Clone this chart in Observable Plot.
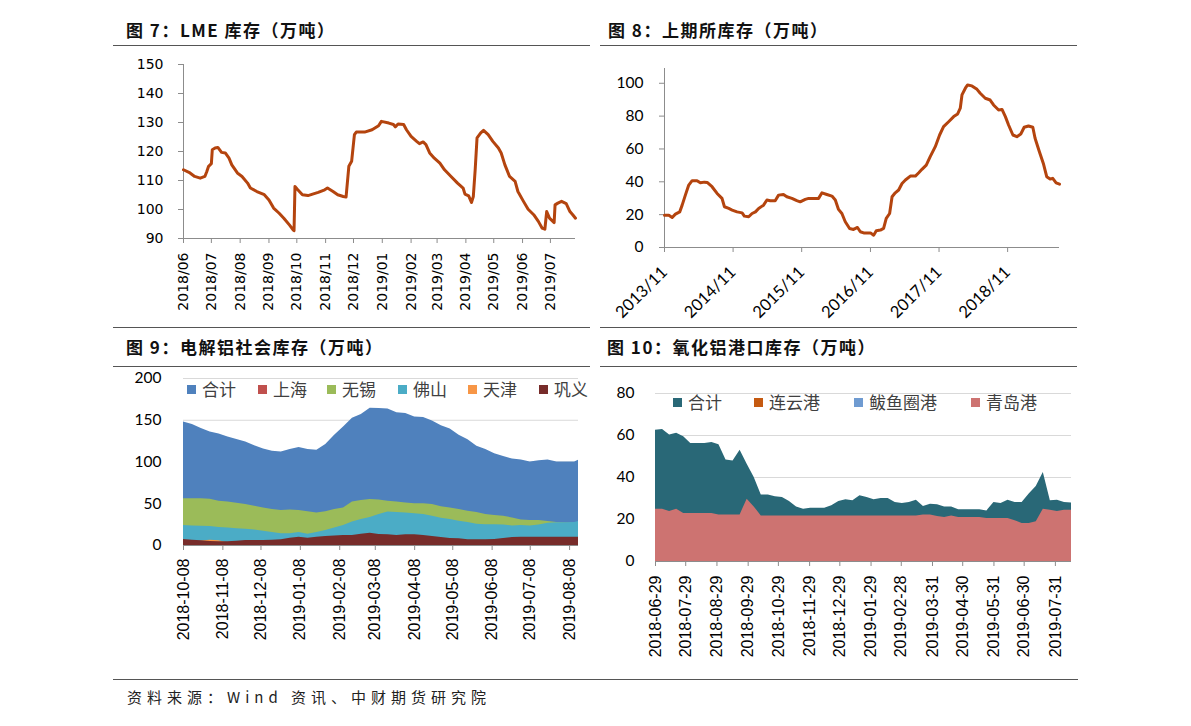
<!DOCTYPE html>
<html><head><meta charset="utf-8">
<script src="https://cdn.jsdelivr.net/npm/d3@7"></script>
<script src="https://cdn.jsdelivr.net/npm/@observablehq/plot@0.6"></script>
<style>
body{margin:0;background:#fff;}
#page{position:relative;width:1191px;height:726px;overflow:hidden;font-family:"Noto Sans CJK SC",sans-serif;background:#fff;}
.title{position:absolute;font-size:17px;font-weight:bold;letter-spacing:1.5px;line-height:20px;color:#111;white-space:nowrap}
.rule{position:absolute;height:0;border-top:1.5px solid #555}
.chart{position:absolute}
.chart svg{overflow:visible}
.lg{position:absolute;display:flex;align-items:center;font-size:17px;line-height:20px;color:#404040;white-space:nowrap;font-family:"Noto Sans CJK SC",sans-serif}
.lg .sw{display:inline-block;width:9px;height:9px;margin-right:6px}
.foot{position:absolute;font-size:15px;letter-spacing:5px;line-height:20px;color:#222;white-space:nowrap}
</style></head>
<body><div id="page"></div>
<script>
// ---------- Data: 图7 LME 库存 ----------
const lmeDates = ["2018-06-01","2018-06-08","2018-06-13","2018-06-19","2018-06-24","2018-06-26","2018-06-28","2018-07-01","2018-07-02","2018-07-05","2018-07-08","2018-07-12","2018-07-16","2018-07-20","2018-07-23","2018-07-29","2018-08-03","2018-08-09","2018-08-12","2018-08-19","2018-08-27","2018-09-01","2018-09-06","2018-09-12","2018-09-17","2018-09-23","2018-09-27","2018-09-28","2018-09-29","2018-10-02","2018-10-07","2018-10-13","2018-10-18","2018-10-24","2018-10-31","2018-11-03","2018-11-09","2018-11-14","2018-11-20","2018-11-23","2018-11-26","2018-11-29","2018-12-02","2018-12-04","2018-12-13","2018-12-21","2018-12-28","2018-12-31","2019-01-08","2019-01-13","2019-01-15","2019-01-18","2019-01-24","2019-01-27","2019-02-01","2019-02-07","2019-02-10","2019-02-14","2019-02-17","2019-02-21","2019-02-26","2019-03-04","2019-03-09","2019-03-16","2019-03-23","2019-03-29","2019-03-31","2019-04-04","2019-04-07","2019-04-09","2019-04-11","2019-04-13","2019-04-17","2019-04-20","2019-04-25","2019-04-30","2019-05-06","2019-05-09","2019-05-13","2019-05-18","2019-05-24","2019-05-27","2019-06-02","2019-06-07","2019-06-13","2019-06-18","2019-06-22","2019-06-25","2019-06-27","2019-06-30","2019-07-05","2019-07-06","2019-07-09","2019-07-13","2019-07-18","2019-07-22","2019-07-25","2019-07-28"];
const lmeValues = [113.7,112.6,111.4,110.8,111.4,113,114.9,115.8,120.6,121.2,121.4,119.7,119.5,117.7,115.4,112.6,111.4,109.1,107.4,106.2,105.1,103.3,100.5,98.7,97,94.7,93,92.7,107.9,106.8,105.1,104.8,105.3,105.9,106.8,107.4,106.2,105.1,104.5,104.3,114.9,116.6,125.8,126.7,126.7,127.5,128.9,130.4,129.8,129.3,128.5,129.5,129.3,127.5,125.2,123.5,122.7,123.3,122.4,119.5,117.7,116,113.7,111.4,109.1,107.4,105.3,104.7,102.4,104.5,113.7,124.7,126.4,127.3,125.8,123.5,121.2,119.5,115.4,111.4,109.7,106.2,102.8,100.1,98.2,95.9,93.6,93.2,99.3,97,95.5,101.6,102.2,102.8,102,99.3,98.2,97];
const lmeXTicks = ["2018-06-01","2018-07-01","2018-08-01","2018-09-01","2018-10-01","2018-11-01","2018-12-01","2019-01-01","2019-02-01","2019-03-01","2019-04-01","2019-05-01","2019-06-01","2019-07-01"];
const lmeYTicks = [90,100,110,120,130,140,150];

// ---------- Data: 图8 上期所库存 ----------
const shfeDates = ["2013-11-01","2013-11-24","2013-12-12","2013-12-29","2014-01-21","2014-02-03","2014-02-20","2014-03-10","2014-03-28","2014-04-23","2014-05-11","2014-06-01","2014-06-16","2014-07-12","2014-08-08","2014-09-03","2014-09-16","2014-10-09","2014-10-27","2014-11-22","2014-12-19","2014-12-31","2015-01-23","2015-02-10","2015-02-28","2015-03-17","2015-04-12","2015-04-30","2015-05-18","2015-06-13","2015-07-01","2015-07-27","2015-08-14","2015-09-10","2015-10-06","2015-10-24","2015-11-20","2015-12-08","2016-01-03","2016-01-30","2016-02-17","2016-03-14","2016-04-10","2016-04-28","2016-05-15","2016-06-02","2016-06-20","2016-07-13","2016-08-03","2016-08-24","2016-09-08","2016-09-26","2016-10-14","2016-11-01","2016-11-18","2016-12-02","2016-12-24","2017-01-10","2017-01-24","2017-02-11","2017-02-24","2017-03-13","2017-03-31","2017-04-18","2017-05-06","2017-06-01","2017-06-28","2017-07-16","2017-08-02","2017-08-25","2017-09-15","2017-10-12","2017-11-04","2017-11-25","2017-12-22","2018-01-18","2018-02-08","2018-02-22","2018-03-03","2018-03-21","2018-04-02","2018-04-25","2018-05-22","2018-06-08","2018-07-05","2018-07-31","2018-08-18","2018-09-14","2018-10-02","2018-10-20","2018-11-06","2018-11-29","2018-12-20","2019-01-10","2019-01-28","2019-02-20","2019-03-15","2019-03-27","2019-04-19","2019-05-10","2019-05-28","2019-06-15","2019-06-29","2019-07-17","2019-08-04"];
const shfeValues = [19.7,19.7,18.3,20.3,21.7,25.8,31.9,38,40.7,40.7,39.4,39.8,39.6,37,32.9,29.9,24.8,23.8,22.8,21.7,21.1,19.1,18.7,20.7,21.7,23.8,25.8,28.9,28.5,28.5,31.9,32.3,30.9,29.9,28.5,27.8,29.3,29.9,29.9,29.9,33.3,32.3,31.3,28.9,23.2,20.7,15.7,11.6,11,12.2,9.6,8.9,8.9,8.9,7.5,10.2,10.6,11.6,17.7,20.7,30.9,33.3,35,39,41.1,43.5,43.5,45.5,47.6,50.2,55.3,61.4,68.5,73.6,76.6,79.7,81.3,84.8,92.9,97,99,98.4,96.3,93.9,90.9,89.8,86.8,83.7,84.1,79.7,74.6,68.5,67.5,69.1,73.2,74,73.2,66.5,58.3,51.2,43.1,41.7,42.1,39.4,38.6];
const shfeXTicks = ["2013-11-01","2014-11-01","2015-11-01","2016-11-01","2017-11-01","2018-11-01"];
const shfeYTicks = [0,20,40,60,80,100];

// ---------- Data: 图9 电解铝社会库存 ----------
const socDates = ["2018-10-08","2018-10-15","2018-10-22","2018-10-29","2018-11-05","2018-11-12","2018-11-19","2018-11-26","2018-12-03","2018-12-10","2018-12-17","2018-12-24","2018-12-31","2019-01-07","2019-01-14","2019-01-21","2019-01-28","2019-02-04","2019-02-11","2019-02-18","2019-02-25","2019-03-04","2019-03-11","2019-03-18","2019-03-25","2019-04-01","2019-04-08","2019-04-15","2019-04-22","2019-04-29","2019-05-06","2019-05-13","2019-05-20","2019-05-27","2019-06-03","2019-06-10","2019-06-17","2019-06-24","2019-07-01","2019-07-08","2019-07-15","2019-07-22","2019-07-29","2019-08-05","2019-08-12","2019-08-15"];
const socTotal    = [148,145,140,136,133.5,130,127,124,119.5,115.5,113,112,115,117.5,115,114,121,132,142,152.5,157,164.5,164,163.5,159,158,154,153.2,149,143.5,139.5,132,126.5,119,115,110,106.5,103.5,102.5,100,101.5,102.5,100,100,100,102];
const socShanghai = [30,30,29,28,27,26,25,24,23,22,21,20,20,19,18,18,19,20,21,22,22,22,21,21,20,20,19,19,18,17,16,15,14,13,12,12,11,11,11,10,10,10,10,10,10,10];
const socWuxi     = [56,56,56,55.5,53,52,50.5,49,47,45,43,42,42.5,42,40.5,39,40.5,43,45,52,54,55,54.5,53,52,51,50,50,49,46.5,45,43,41,39.5,37,36,35,33,30.5,30,30,28.8,27.5,27,27,26.5];
const socFoshan   = [24,23.5,23,22.8,21.5,21,20,19.5,18.5,17,15.5,14,14,15.5,13.5,15.5,18,21,24,28,31,33.5,37,40,39.6,39,38,37.2,35,32.5,31,29,27.5,25.5,24.8,24.8,24.5,23.5,24,23.5,24.5,26.5,27.2,27.2,27.5,28.8];
const socTianjin  = [2,3,5.5,6.2,5.8,3,1.5,1.5,1.5,1.2,1.2,1,1,1,1,1,1,1,1,1,1,1,1,1,1,1,1,1,1,1,1,1,0.8,0.8,0.8,0.8,0.8,0.5,0.5,0.5,0.5,0.5,0.5,0.5,0.5,0.5];
const socGongyi   = [7.2,6.2,5.6,4.8,4.4,4.6,5,6,6,6,6.4,6.8,8.8,10,8.8,10,10.8,11.5,12,12,13.5,14.8,13.2,12.8,12,12.8,12.8,12,10.8,9.5,8.5,8,6.8,6.8,6.8,7.2,8.5,9.5,10,10,10,10,10,10,10,10];
const socNames  = ["合计","上海","无锡","佛山","天津","巩义"];
const socColors = ["#4f81bd","#c0504d","#9bbb59","#4bacc6","#f79646","#772c2a"];
const socXTicks = ["2018-10-08","2018-11-08","2018-12-08","2019-01-08","2019-02-08","2019-03-08","2019-04-08","2019-05-08","2019-06-08","2019-07-08","2019-08-08"];
const socYTicks = [0,50,100,150,200];

// ---------- Data: 图10 氧化铝港口库存 ----------
const portDates = ["2018-06-29","2018-07-06","2018-07-13","2018-07-20","2018-07-27","2018-08-03","2018-08-10","2018-08-17","2018-08-24","2018-08-31","2018-09-07","2018-09-14","2018-09-21","2018-09-28","2018-10-05","2018-10-12","2018-10-19","2018-10-26","2018-11-02","2018-11-09","2018-11-16","2018-11-23","2018-11-30","2018-12-07","2018-12-14","2018-12-21","2018-12-28","2019-01-04","2019-01-11","2019-01-18","2019-01-25","2019-02-01","2019-02-08","2019-02-15","2019-02-22","2019-03-01","2019-03-08","2019-03-15","2019-03-22","2019-03-29","2019-04-05","2019-04-12","2019-04-19","2019-04-26","2019-05-03","2019-05-10","2019-05-17","2019-05-24","2019-05-31","2019-06-07","2019-06-14","2019-06-21","2019-06-28","2019-07-05","2019-07-12","2019-07-19","2019-07-26","2019-08-02","2019-08-09","2019-08-16"];
const portTotal   = [62.5,62.9,60.2,61.1,59.4,56.2,56.2,56.2,56.7,55.6,48.3,47.8,53,46.3,40,31.7,31.7,30.8,30.5,28.6,26,24.9,25.4,25.4,25.4,26.5,28.6,29.4,28.9,31.3,30.5,29.4,30,30,28.1,27.6,28.1,29.2,26.2,27.3,27,26,26,24.6,24.6,24.6,24.6,24.1,28.1,27.6,29.2,28.1,28.1,32.1,35.7,42.4,28.9,29.2,28.1,27.8];
const portLYG     = [15,15,14,14,13,12,12,12,12,11,10,10,10,9,8,6,6,5,5,4,3,3,3,3,3,3,4,4,4,5,5,5,5,5,4,4,4,4,3,3,3,3,3,2,2,2,2,2,3,3,4,4,4,6,8,10,3,3,3,3];
const portBYQ     = [22,22,22,22,20,20,20,20,20,20,16,15,20,10,6,5,5,4,4,3,2,1,1,1,1,2,3,3,3,4,3,3,3,3,3,2,2,3,2,2,2,2,2,2,2,2,2,2,4,4,4,4,4,8,10,12,2,2,1,1];
const portQD      = [24.9,24.9,23.8,24.9,22.9,22.9,22.9,22.9,22.9,22.2,22.2,22.2,22.2,29.7,26,21.7,21.7,21.7,21.7,21.7,21.7,21.7,21.7,21.7,21.7,21.7,21.7,21.7,21.7,21.7,21.7,21.7,21.7,21.7,21.7,21.7,21.7,21.7,22.2,22.2,21.4,21,21.7,21,21,21,21,20.5,20.5,20.5,20.5,19.4,18.1,18.1,18.9,24.9,24.4,23.8,24.4,24.4];
const portNames  = ["合计","连云港","鲅鱼圈港","青岛港"];
const portColors = ["#296877","#c55a11","#6f9bd1","#cd7371"];
const portXTicks = ["2018-06-29","2018-07-29","2018-08-29","2018-09-29","2018-10-29","2018-11-29","2018-12-29","2019-01-29","2019-02-28","2019-03-31","2019-04-30","2019-05-31","2019-06-30","2019-07-31"];
const portYTicks = [0,20,40,60,80];

// ---------- Texts ----------
const titles = ["图 7：LME 库存（万吨）","图 8：上期所库存（万吨）","图 9：电解铝社会库存（万吨）","图 10：氧化铝港口库存（万吨）"];
const footText = "资料来源：Wind 资讯、中财期货研究院";

// ---------- Layout ----------
const page = document.getElementById("page");
const D = s => new Date(s + "T00:00:00Z");
const AX = "#8c8c8c", GRID = "#d9d9d9", LINE = "#b4440e";

function addDiv(cls, css, html) {
  const el = document.createElement("div");
  el.className = cls;
  Object.assign(el.style, css);
  if (html != null) el.textContent = html;
  page.appendChild(el);
  return el;
}
[[126,20],[608,20],[126,337],[607,337]].forEach((p,i)=>addDiv("title",{left:p[0]+"px",top:p[1]+"px"},titles[i]));
[[113,45,477],[600,45,477],[113,327,477],[600,327,477],[113,366,477],[600,366,477],[113,679,965]].forEach(r=>addDiv("rule",{left:r[0]+"px",top:r[1]+"px",width:r[2]+"px"}));
addDiv("foot",{left:"127px",top:"687px"},footText);

function place(svg, left, top) {
  const c = addDiv("chart",{left:left+"px",top:top+"px"});
  c.appendChild(svg);
}

// ---------- 图7 ----------
const lme = lmeDates.map((d,i)=>({date:D(d), value:lmeValues[i]}));
place(Plot.plot({
  width:477, height:275, marginLeft:70, marginRight:15, marginTop:14, marginBottom:87,
  style:{fontFamily:"DejaVu Sans", fontSize:"14px", color:"#000", background:"transparent", overflow:"visible"},
  x:{type:"utc", domain:[D(lmeDates[0]), D(lmeDates[lmeDates.length-1])]},
  y:{domain:[90,150]},
  marks:[
    Plot.ruleX([D(lmeDates[0])],{stroke:AX, strokeWidth:1}),
    Plot.ruleY([90],{stroke:AX, strokeWidth:1}),
    Plot.axisY({ticks:lmeYTicks, tickSize:5, tickPadding:15, stroke:AX, fill:"#000", label:null, fontSize:14}),
    Plot.axisX({ticks:lmeXTicks.map(D), tickFormat:d3.utcFormat("%Y/%m"), tickRotate:-90, tickSize:5, tickPadding:9, stroke:AX, fill:"#000", label:null, fontSize:14}),
    Plot.lineY(lme,{x:"date", y:"value", stroke:LINE, strokeWidth:3, strokeLinejoin:"round"})
  ]
}), 113, 50);

// ---------- 图8 ----------
const shfe = shfeDates.map((d,i)=>({date:D(d), value:shfeValues[i]}));
place(Plot.plot({
  width:478, height:275, marginLeft:64, marginRight:19, marginTop:18, marginBottom:78,
  style:{fontFamily:"Lato", fontSize:"15px", color:"#000", background:"transparent", overflow:"visible"},
  x:{type:"utc", domain:[D(shfeDates[0]), D(shfeDates[shfeDates.length-1])]},
  y:{domain:[0,109]},
  marks:[
    Plot.ruleX([D(shfeDates[0])],{stroke:AX}),
    Plot.ruleY([0],{stroke:AX}),
    Plot.axisY({ticks:shfeYTicks, tickSize:5, tickPadding:16, stroke:AX, fill:"#000", label:null, fontSize:15.5}),
    Plot.axisX({ticks:shfeXTicks.map(D), tickFormat:d3.utcFormat("%Y/%m"), tickRotate:-45, tickSize:5, tickPadding:17, stroke:AX, fill:"#000", label:null, fontSize:16.5, fontFamily:"Lato"}),
    Plot.lineY(shfe,{x:"date", y:"value", stroke:LINE, strokeWidth:3, strokeLinejoin:"round"})
  ]
}), 600, 50);

// ---------- 图9 ----------
const socSeries = [socTotal, socShanghai, socWuxi, socFoshan, socTianjin, socGongyi];
const socAreas = socSeries.map((vals,si)=>
  Plot.areaY(socDates.map((d,i)=>({date:D(d), value:vals[i]})),{x:"date", y:"value", fill:socColors[si], fillOpacity:1}));
place(Plot.plot({
  width:477, height:300, marginLeft:70, marginRight:12, marginTop:10, marginBottom:123,
  style:{fontFamily:"Liberation Sans", fontSize:"16px", color:"#000", background:"transparent", overflow:"visible"},
  x:{type:"utc", domain:[D(socDates[0]), D(socDates[socDates.length-1])]},
  y:{domain:[0,200]},
  marks:[
    Plot.ruleY(socYTicks,{stroke:GRID, strokeWidth:1.2}),
    ...socAreas,
    Plot.ruleY([0],{stroke:AX}),
    Plot.axisY({ticks:socYTicks, tickSize:0, tickPadding:22, fill:"#000", label:null, fontFamily:"Lato", fontSize:15.5}),
    Plot.axisX({ticks:socXTicks.map(D), tickFormat:d3.utcFormat("%Y-%m-%d"), tickRotate:-90, tickSize:5, tickPadding:8, stroke:AX, fill:"#000", label:null, fontSize:16})
  ]
}), 113, 368);

// ---------- 图10 ----------
const portSeries = [portTotal, portLYG, portBYQ, portQD];
const portAreas = portSeries.map((vals,si)=>
  Plot.areaY(portDates.map((d,i)=>({date:D(d), value:vals[i]})),{x:"date", y:"value", fill:portColors[si], fillOpacity:1}));
place(Plot.plot({
  width:478, height:300, marginLeft:55, marginRight:7, marginTop:25, marginBottom:107,
  style:{fontFamily:"Liberation Sans", fontSize:"16px", color:"#000", background:"transparent", overflow:"visible"},
  x:{type:"utc", domain:[D(portDates[0]), D(portDates[portDates.length-1])]},
  y:{domain:[0,80]},
  marks:[
    Plot.ruleY(portYTicks,{stroke:GRID, strokeWidth:1.2}),
    ...portAreas,
    Plot.ruleY([0],{stroke:AX}),
    Plot.axisY({ticks:portYTicks, tickSize:0, tickPadding:21, fill:"#000", label:null, fontFamily:"Lato", fontSize:15.5}),
    Plot.axisX({ticks:portXTicks.map(D), tickFormat:d3.utcFormat("%Y-%m-%d"), tickRotate:-90, tickSize:5, tickPadding:9, stroke:AX, fill:"#000", label:null, fontSize:16})
  ]
}), 600, 368);

// ---------- Legends ----------
function legend(names, colors, xs, cy) {
  names.forEach((n,i)=>{
    const el = addDiv("lg",{left:xs[i]+"px", top:(cy-10)+"px"});
    const sw = document.createElement("span"); sw.className="sw"; sw.style.background=colors[i];
    el.appendChild(sw);
    el.appendChild(document.createTextNode(n));
  });
}
legend(socNames, socColors, [187,258,327,398,468,539], 389);
legend(portNames, portColors, [673,754,854,971], 402);
</script>
</body></html>
